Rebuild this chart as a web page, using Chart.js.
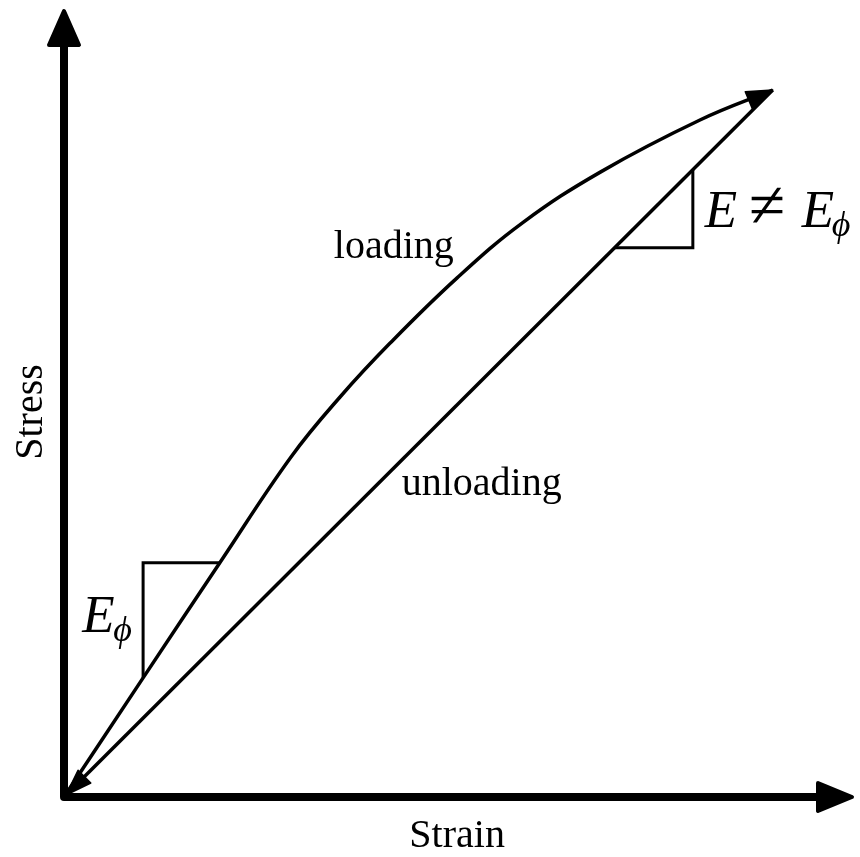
<!DOCTYPE html>
<html>
<head>
<meta charset="utf-8">
<script src="https://cdn.jsdelivr.net/npm/chart.js@4/dist/chart.umd.min.js"></script>
<style>
  html, body { margin: 0; padding: 0; background: #fff; }
  canvas { display: block; }
</style>
</head>
<body>
<canvas id="c" width="860" height="857"></canvas>
<script>
// Loading path (strain, stress) in arbitrary units, 0..100 on both axes
const loadingStrain = [0, 10.0, 19.7, 28.7, 34.9, 41.2, 49.7, 58.0, 67.8, 80.4, 89.6];
const loadingStress = [0, 15.1, 29.7, 43.1, 50.7, 57.5, 65.8, 72.8, 79.2, 85.8, 89.6];

// Unloading path: straight back from the peak to the origin
const unloadingStrain = [89.6, 0];
const unloadingStress = [89.6, 0];

// Slope triangles
const initialSlopeStrain = [19.7, 10.0, 10.0];
const initialSlopeStress = [29.7, 29.7, 15.1];
const unloadSlopeStrain = [69.6, 79.5, 79.5];
const unloadSlopeStress = [69.6, 69.6, 79.5];

const axisMax = 100;

const pts = (xs, ys) => xs.map((x, i) => ({ x, y: ys[i] }));

function arrowHead(ctx, fromX, fromY, tipX, tipY, len, half, edge) {
  const a = Math.atan2(tipY - fromY, tipX - fromX);
  const bx = tipX - Math.cos(a) * len, by = tipY - Math.sin(a) * len;
  const nx = -Math.sin(a) * half, ny = Math.cos(a) * half;
  ctx.beginPath();
  ctx.moveTo(tipX, tipY);
  ctx.lineTo(bx + nx, by + ny);
  ctx.lineTo(bx - nx, by - ny);
  ctx.closePath();
  ctx.lineWidth = edge;
  ctx.lineJoin = 'round';
  ctx.fill();
  ctx.stroke();
}

function drawPieces(ctx, x0, y0, pieces) {
  pieces.forEach(p => {
    ctx.font = p.font;
    ctx.fillText(p.t, x0 + p.dx, y0 + (p.dy || 0));
  });
}

const sketch = {
  id: 'sketch',
  afterDatasetsDraw(chart) {
    const ctx = chart.ctx;
    const xs = chart.scales.x, ys = chart.scales.y;
    const px = v => xs.getPixelForValue(v);
    const py = v => ys.getPixelForValue(v);
    const ox = px(0), oy = py(0);
    const xEnd = px(axisMax), yEnd = py(axisMax);

    ctx.save();
    ctx.strokeStyle = '#000';
    ctx.fillStyle = '#000';

    // Axes
    ctx.lineWidth = 8;
    ctx.lineJoin = 'round';
    ctx.lineCap = 'butt';
    ctx.beginPath();
    ctx.moveTo(ox, yEnd + 30);
    ctx.lineTo(ox, oy);
    ctx.lineTo(xEnd - 30, oy);
    ctx.stroke();
    arrowHead(ctx, ox, oy, ox, yEnd + 3, 34, 15, 4);
    arrowHead(ctx, ox, oy, xEnd - 3, oy, 34, 14, 4);

    // Arrow at the end of the loading curve, along its end tangent
    const lm = chart.getDatasetMeta(0).data;
    const last = lm[lm.length - 1];
    const fx = (last.cp1x !== undefined) ? last.cp1x : lm[lm.length - 2].x;
    const fy = (last.cp1y !== undefined) ? last.cp1y : lm[lm.length - 2].y;
    arrowHead(ctx, fx, fy, last.x, last.y, 26, 9, 1.5);

    // Arrow at the end of the unloading line (origin)
    const um = chart.getDatasetMeta(1).data;
    arrowHead(ctx, um[0].x, um[0].y, um[1].x + 2, um[1].y - 2, 26, 9, 1.5);

    // Labels
    ctx.textBaseline = 'alphabetic';
    ctx.textAlign = 'center';
    ctx.font = '40px "Liberation Serif"';
    ctx.fillText('loading', px(41.7), py(68.3));
    ctx.fillText('unloading', px(52.8), py(38.3));
    ctx.fillText('Strain', px(49.7), oy + 50);

    ctx.save();
    ctx.translate(ox - 22, py(48.8));
    ctx.rotate(-Math.PI / 2);
    ctx.fillText('Stress', 0, 0);
    ctx.restore();

    ctx.textAlign = 'left';
    const it = 'italic 53px "Liberation Serif"';
    const sub = 'italic 36px "Liberation Serif"';
    drawPieces(ctx, px(81.0), py(72.2), [
      { t: 'E', font: it, dx: 0 },
      { t: '\u2260', font: '66px "Liberation Serif"', dx: 44 },
      { t: 'E', font: it, dx: 97 },
      { t: '\u03D5', font: sub, dx: 127, dy: 9 }
    ]);
    drawPieces(ctx, px(2.3), py(20.9), [
      { t: 'E', font: it, dx: 0 },
      { t: '\u03D5', font: sub, dx: 31, dy: 9 }
    ]);

    ctx.restore();
  }
};

const lineStyle = {
  borderColor: '#000',
  borderWidth: 3.5,
  pointRadius: 0,
  fill: false,
  showLine: true
};

new Chart(document.getElementById('c'), {
  type: 'scatter',
  data: {
    datasets: [
      Object.assign({ label: 'loading', data: pts(loadingStrain, loadingStress), tension: 0.4 }, lineStyle),
      Object.assign({ label: 'unloading', data: pts(unloadingStrain, unloadingStress) }, lineStyle),
      Object.assign({ label: 'E0', data: pts(initialSlopeStrain, initialSlopeStress), borderJoinStyle: 'miter' }, lineStyle, { borderWidth: 3 }),
      Object.assign({ label: 'E', data: pts(unloadSlopeStrain, unloadSlopeStress), borderJoinStyle: 'miter' }, lineStyle, { borderWidth: 3 })
    ]
  },
  options: {
    responsive: false,
    animation: false,
    events: [],
    layout: { padding: { left: 64, right: 5, top: 8, bottom: 60 } },
    scales: {
      x: { type: 'linear', min: 0, max: axisMax, display: false },
      y: { type: 'linear', min: 0, max: axisMax, display: false }
    },
    plugins: {
      legend: { display: false },
      tooltip: { enabled: false }
    }
  },
  plugins: [sketch]
});
</script>
</body>
</html>
